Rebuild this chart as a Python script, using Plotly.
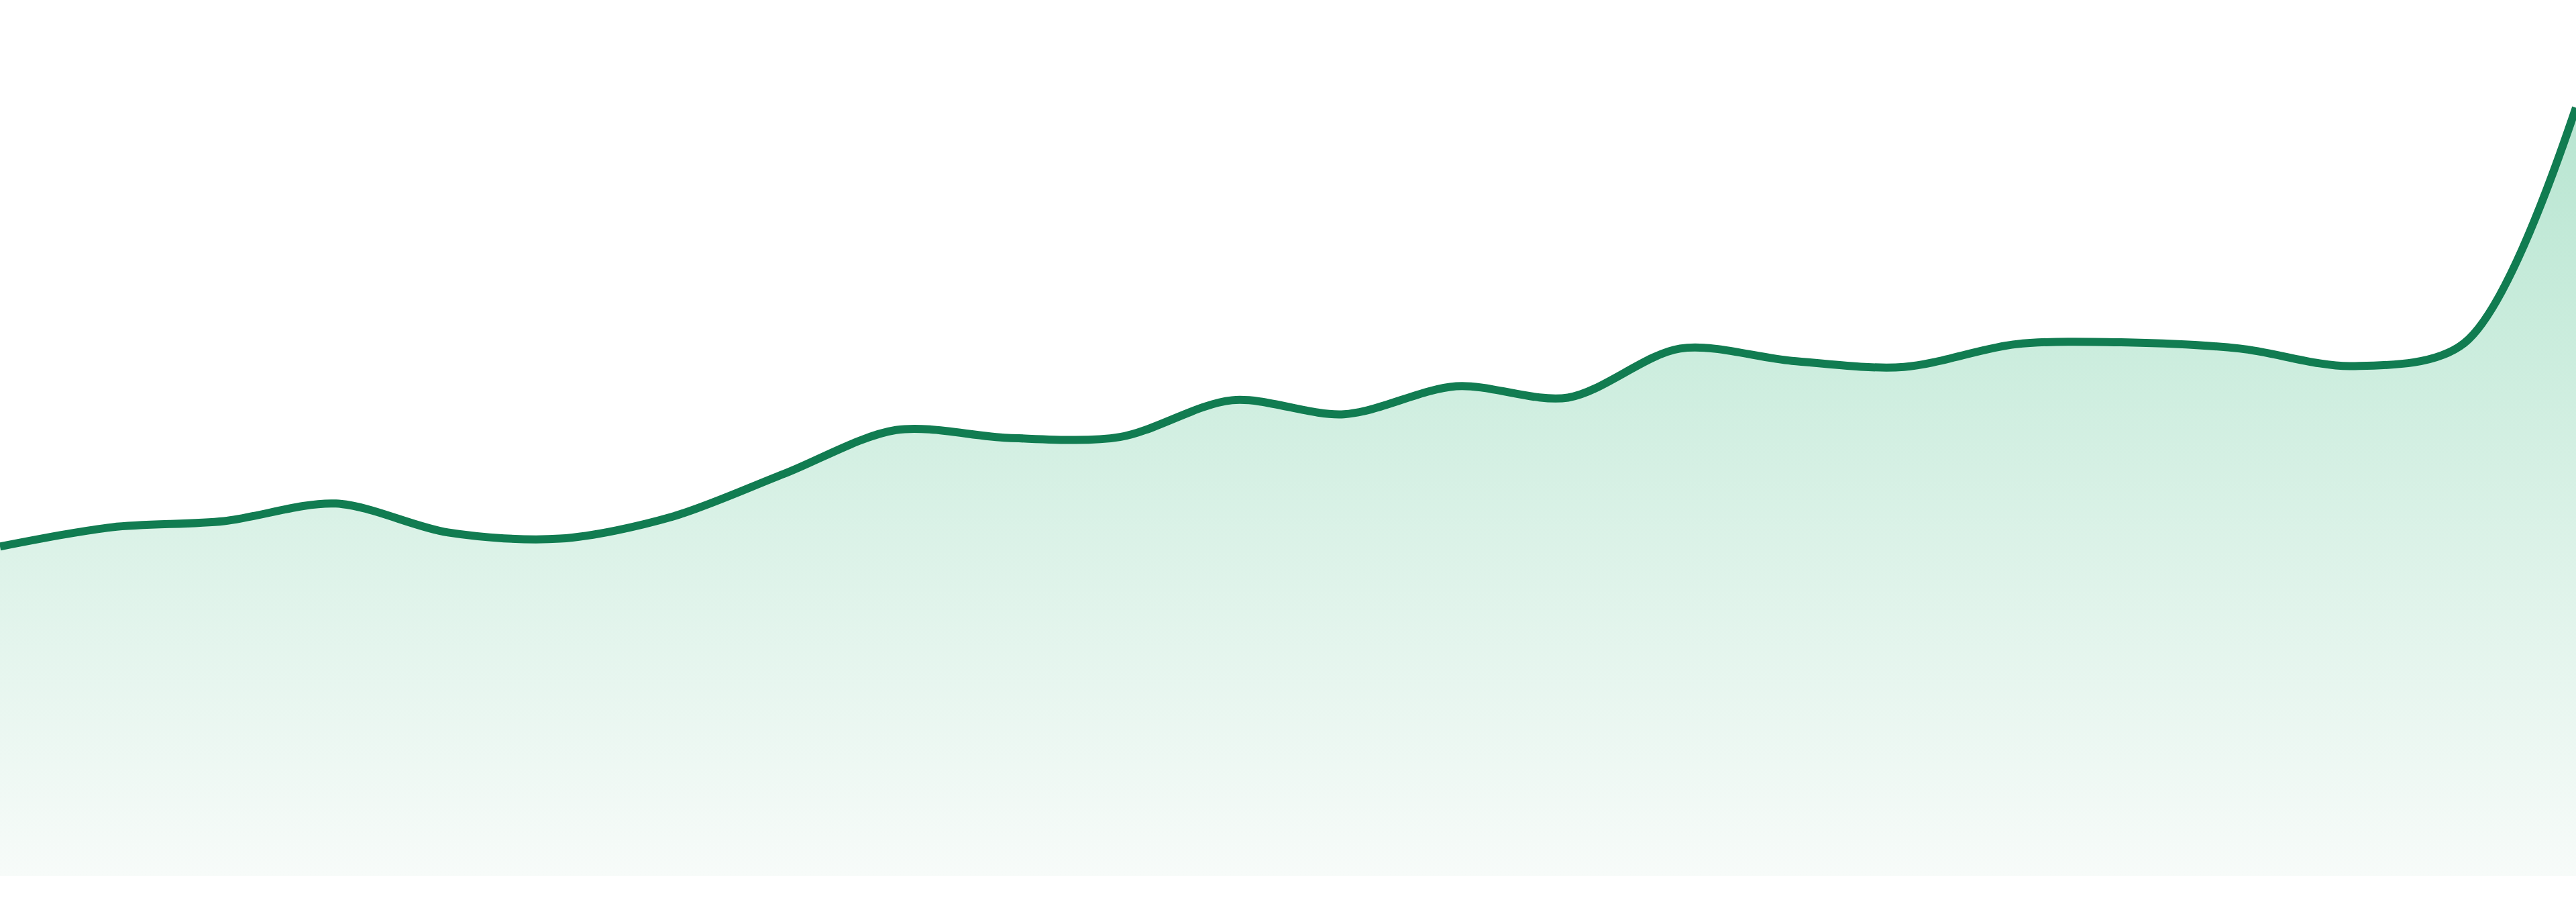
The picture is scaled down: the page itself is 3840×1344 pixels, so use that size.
import plotly.graph_objects as go

# Data
periods = list(range(24))
values = [37.6, 39.8, 40.5, 42.5, 39.2, 38.5, 41.0, 45.9, 50.9, 50.0, 50.1, 54.3,
          52.7, 55.9, 54.6, 60.2, 58.8, 58.1, 60.7, 60.9, 60.2, 58.2, 60.8, 87.7]
baseline = [0] * len(periods)

LINE_COLOR = "#117c51"

fig = go.Figure()
fig.add_trace(go.Scatter(
    x=periods,
    y=baseline,
    mode="lines",
    line=dict(color="rgba(0,0,0,0)", width=0),
    hoverinfo="skip",
    showlegend=False,
))
fig.add_trace(go.Scatter(
    x=periods,
    y=values,
    mode="lines",
    line=dict(color=LINE_COLOR, width=12, shape="spline", smoothing=0.9),
    fill="tonexty",
    fillgradient=dict(
        type="vertical",
        colorscale=[[0.0, "#f7fbf9"], [0.72, "#c9ecdc"], [1.0, "#b8e5d1"]],
        start=0,
        stop=87.7,
    ),
    hoverinfo="skip",
    showlegend=False,
))

fig.update_layout(
    width=3840,
    height=1344,
    margin=dict(l=0, r=0, t=0, b=0, pad=0),
    paper_bgcolor="white",
    plot_bgcolor="white",
    showlegend=False,
    xaxis=dict(range=[0, 23], visible=False, showgrid=False, zeroline=False, fixedrange=True),
    yaxis=dict(range=[-2.99, 100], visible=False, showgrid=False, zeroline=False, fixedrange=True),
)

fig.write_html(
    "out.html",
    config={"displayModeBar": False},
    post_script="document.body.style.margin='0';document.body.style.overflow='hidden';",
)
